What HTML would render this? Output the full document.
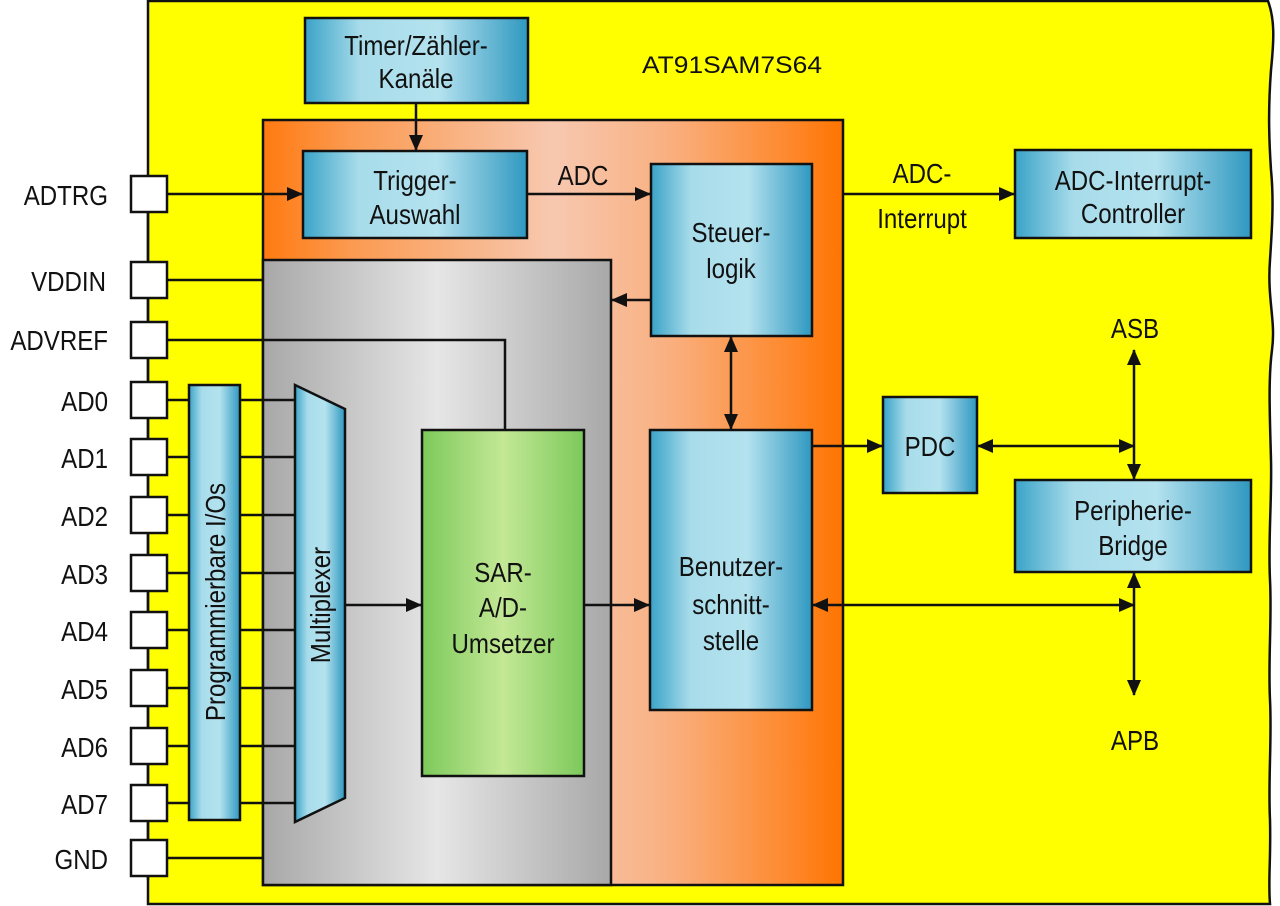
<!DOCTYPE html>
<html><head><meta charset="utf-8"><style>html,body{margin:0;padding:0;background:#fff}svg{display:block}text{font-family:"Liberation Sans",sans-serif;font-size:28px;fill:#111}.n{transform-box:fill-box;transform-origin:center;transform:scaleX(0.86)}.r{transform-box:fill-box;transform-origin:right center;transform:scaleX(0.86)}</style></head><body>
<svg width="1280" height="906" viewBox="0 0 1280 906" xmlns="http://www.w3.org/2000/svg">
<defs>
<linearGradient id="blue" x1="0" x2="1" y1="0" y2="0"><stop offset="0" stop-color="#3aa3c8"/><stop offset="0.25" stop-color="#a8dcea"/><stop offset="0.6" stop-color="#b4e2ef"/><stop offset="1" stop-color="#2f98c0"/></linearGradient>
<linearGradient id="orange" x1="0" x2="1"><stop offset="0" stop-color="#ff7a10"/><stop offset="0.15" stop-color="#fb9a50"/><stop offset="0.5" stop-color="#f7c8b0"/><stop offset="0.7" stop-color="#f9b080"/><stop offset="0.9" stop-color="#fd8a30"/><stop offset="1" stop-color="#ff7400"/></linearGradient>
<linearGradient id="gray" x1="0" x2="1"><stop offset="0" stop-color="#a8a8a8"/><stop offset="0.5" stop-color="#e6e6e6"/><stop offset="1" stop-color="#a8a8a8"/></linearGradient>
<linearGradient id="green" x1="0" x2="1"><stop offset="0" stop-color="#7cc95a"/><stop offset="0.5" stop-color="#c4e896"/><stop offset="1" stop-color="#7cc95a"/></linearGradient>
<marker id="ah" markerWidth="16" markerHeight="14" refX="15" refY="7" orient="auto-start-reverse" markerUnits="userSpaceOnUse" viewBox="0 0 16 14"><path d="M0,0 L16,7 L0,14 z" fill="#111"/></marker>
</defs>
<path d="M148,1 L1268,1 C1275,20 1274,40 1271,70 C1268,110 1269,140 1271,170 C1274,200 1272,230 1270,260 C1267,300 1276,320 1272,350 C1268,380 1270,420 1271,460 C1272,500 1268,540 1270,580 C1272,620 1268,660 1270,700 C1272,740 1268,780 1270,820 C1271,860 1268,880 1270,904 L148,904 Z" fill="#ffff00" stroke="#111" stroke-width="2.5"/>
<text x="642" y="73" textLength="180" lengthAdjust="spacingAndGlyphs" style="font-size:24px">AT91SAM7S64</text>
<rect x="263" y="120" width="580" height="765" fill="url(#orange)" stroke="#111" stroke-width="2.5"/>
<rect x="263" y="260" width="348" height="625" fill="url(#gray)" stroke="#111" stroke-width="2.5"/>
<g stroke="#111" stroke-width="2.5" fill="url(#blue)">
<rect x="305" y="18" width="223" height="85"/>
<rect x="303" y="151" width="224" height="87"/>
<rect x="651" y="164" width="161" height="172"/>
<rect x="650" y="430" width="162" height="280"/>
<rect x="883" y="397" width="94" height="96"/>
<rect x="1015" y="150" width="236" height="88"/>
<rect x="1015" y="480" width="236" height="92"/>
<rect x="189" y="385" width="51" height="435"/>
<polygon points="295,385 345,409 345,798 295,822"/>
</g>
<rect x="422" y="430" width="162" height="346" fill="url(#green)" stroke="#111" stroke-width="2.5"/>
<g stroke="#111" stroke-width="2.5" fill="none">
<line x1="416" y1="103" x2="416" y2="150" marker-end="url(#ah)"/>
<line x1="167" y1="194" x2="302" y2="194" marker-end="url(#ah)"/>
<line x1="527" y1="194" x2="650" y2="194" marker-end="url(#ah)"/>
<line x1="843" y1="194" x2="1014" y2="194" marker-end="url(#ah)"/>
<line x1="651" y1="300" x2="612" y2="300" marker-end="url(#ah)"/>
<line x1="731" y1="337" x2="731" y2="429" marker-start="url(#ah)" marker-end="url(#ah)"/>
<line x1="812" y1="446" x2="882" y2="446" marker-end="url(#ah)"/>
<line x1="978" y1="446" x2="1134" y2="446" marker-start="url(#ah)" marker-end="url(#ah)"/>
<line x1="1134" y1="350" x2="1134" y2="479" marker-start="url(#ah)" marker-end="url(#ah)"/>
<line x1="1134" y1="573" x2="1134" y2="695" marker-start="url(#ah)" marker-end="url(#ah)"/>
<line x1="813" y1="605" x2="1134" y2="605" marker-start="url(#ah)" marker-end="url(#ah)"/>
<line x1="345" y1="605" x2="421" y2="605" marker-end="url(#ah)"/>
<line x1="584" y1="605" x2="649" y2="605" marker-end="url(#ah)"/>
<line x1="167" y1="280" x2="263" y2="280"/>
<polyline points="167,340 505,340 505,430"/>
<line x1="167" y1="858" x2="263" y2="858"/>
<line x1="148" y1="190" x2="148" y2="880"/>
<path d="M167,400H189M240,400H295 M167,457H189M240,457H295 M167,515H189M240,515H295 M167,573H189M240,573H295 M167,630H189M240,630H295 M167,688H189M240,688H295 M167,746H189M240,746H295 M167,803H189M240,803H295"/>
</g>
<g fill="#fff" stroke="#111" stroke-width="2.5">
<rect x="131" y="176" width="36" height="36"/><rect x="131" y="262" width="36" height="36"/><rect x="131" y="322" width="36" height="36"/>
<rect x="131" y="382" width="36" height="36"/><rect x="131" y="439" width="36" height="36"/><rect x="131" y="497" width="36" height="36"/>
<rect x="131" y="555" width="36" height="36"/><rect x="131" y="612" width="36" height="36"/><rect x="131" y="670" width="36" height="36"/>
<rect x="131" y="728" width="36" height="36"/><rect x="131" y="785" width="36" height="36"/><rect x="131" y="840" width="36" height="36"/>
</g>
<g text-anchor="end">
<text class="r" x="108" y="205">ADTRG</text><text class="r" x="106" y="291">VDDIN</text><text class="r" x="108" y="350">ADVREF</text>
<text class="r" x="108" y="411">AD0</text><text class="r" x="108" y="468">AD1</text><text class="r" x="108" y="526">AD2</text><text class="r" x="108" y="584">AD3</text>
<text class="r" x="108" y="641">AD4</text><text class="r" x="108" y="699">AD5</text><text class="r" x="108" y="757">AD6</text><text class="r" x="108" y="814">AD7</text><text class="r" x="108" y="869">GND</text>
</g>
<g text-anchor="middle">
<text class="n" x="416" y="55">Timer/Zähler-</text><text class="n" x="416" y="88">Kanäle</text>
<text class="n" x="415" y="190">Trigger-</text><text class="n" x="415" y="224">Auswahl</text>
<text class="n" x="583" y="185">ADC</text>
<text class="n" x="922" y="183">ADC-</text><text class="n" x="922" y="228">Interrupt</text>
<text class="n" x="1133" y="190">ADC-Interrupt-</text><text class="n" x="1133" y="223">Controller</text>
<text class="n" x="731" y="242">Steuer-</text><text class="n" x="731" y="278">logik</text>
<text class="n" x="1135" y="338">ASB</text><text class="n" x="1135" y="750">APB</text>
<text class="n" x="930" y="456">PDC</text>
<text class="n" x="1133" y="520">Peripherie-</text><text class="n" x="1133" y="555">Bridge</text>
<text class="n" x="731" y="576">Benutzer-</text><text class="n" x="731" y="614">schnitt-</text><text class="n" x="731" y="650">stelle</text>
<text class="n" x="503" y="582">SAR-</text><text class="n" x="503" y="617">A/D-</text><text class="n" x="503" y="653">Umsetzer</text>
<text transform="translate(225,602) rotate(-90) scale(0.86,1)">Programmierbare I/Os</text>
<text transform="translate(330,605) rotate(-90) scale(0.86,1)">Multiplexer</text>
</g>
</svg>
</body></html>
